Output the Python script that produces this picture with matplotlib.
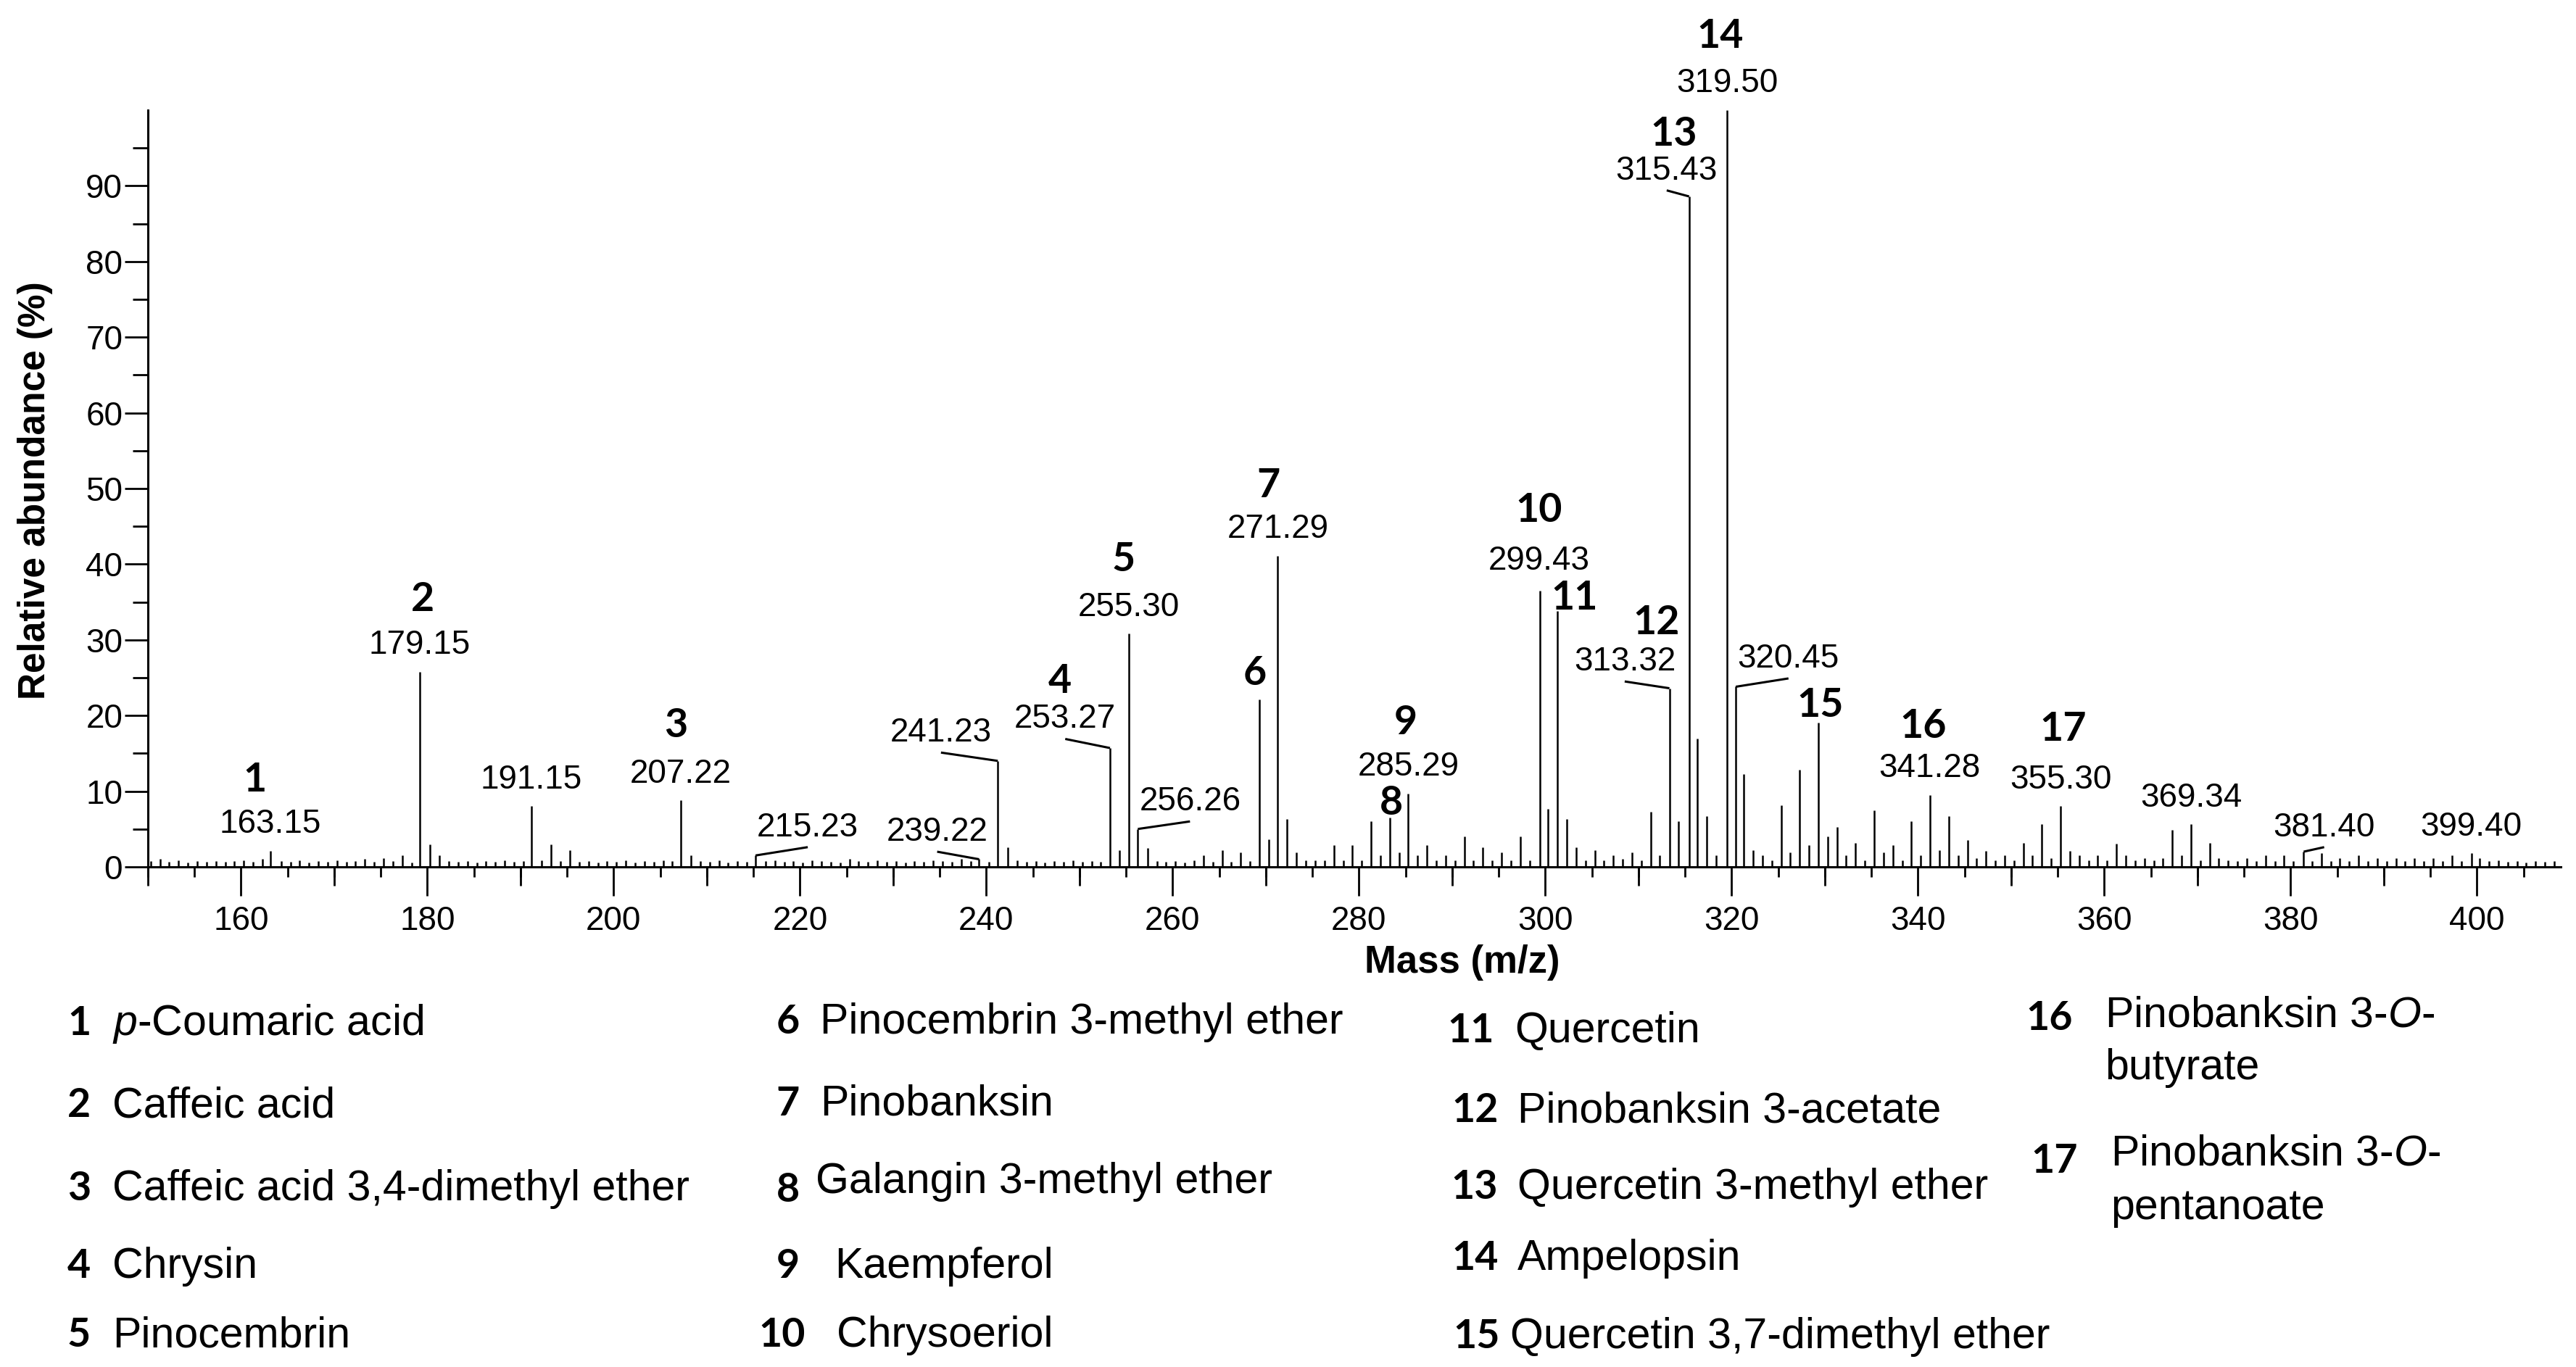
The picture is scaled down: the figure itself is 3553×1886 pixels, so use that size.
import numpy as np
import matplotlib
matplotlib.use("Agg")
import matplotlib.pyplot as plt
from matplotlib.ticker import MultipleLocator, FixedLocator

plt.rcParams['font.family'] = ['Liberation Sans', 'DejaVu Sans']
plt.rcParams['mathtext.fontset'] = 'custom'
plt.rcParams['mathtext.rm'] = 'Liberation Sans'
plt.rcParams['mathtext.it'] = 'Liberation Sans:italic'
plt.rcParams['mathtext.bf'] = 'Liberation Sans:bold'

# relative abundance (%) at every nominal mass from 150 to 409
mass_start = 150
abundance = [
    0.8, 1.0, 0.7, 0.9, 0.6, 0.8, 0.7, 0.8, 0.7, 0.8,     # 150
    0.9, 0.7, 1.0, 2.1, 0.8, 0.7, 0.9, 0.6, 0.8, 0.7,     # 160
    0.9, 0.7, 0.8, 1.0, 0.7, 1.1, 0.8, 1.5, 0.6, 25.8,    # 170
    3.0, 1.5, 0.8, 0.7, 0.8, 0.6, 0.8, 0.7, 0.9, 0.7,     # 180
    0.8, 8.0, 0.9, 3.0, 0.8, 2.2, 0.7, 0.8, 0.6, 0.8,     # 190
    0.7, 0.9, 0.6, 0.8, 0.7, 0.9, 0.8, 8.8, 1.5, 0.8,     # 200
    0.7, 0.9, 0.6, 0.8, 0.7, 1.5, 0.8, 0.9, 0.7, 0.8,     # 210
    0.6, 0.9, 0.8, 0.7, 0.6, 1.0, 0.8, 0.7, 0.9, 0.7,     # 220
    0.8, 0.6, 0.8, 0.7, 0.9, 0.8, 0.7, 1.0, 0.8, 1.0,     # 230
    0.7, 14.0, 2.6, 0.9, 0.7, 0.8, 0.6, 0.8, 0.7, 0.9,    # 240
    0.7, 0.8, 0.7, 15.7, 2.2, 30.8, 5.0, 2.5, 0.8, 0.7,   # 250
    0.8, 0.6, 0.9, 1.5, 0.7, 2.2, 0.7, 1.9, 0.8, 22.1,    # 260
    3.6, 41.1, 6.3, 1.9, 0.9, 0.9, 0.9, 2.9, 0.9, 2.9,    # 270
    0.9, 6.0, 1.5, 6.5, 1.9, 9.7, 1.5, 2.9, 0.9, 1.5,     # 280
    0.9, 4.0, 0.9, 2.6, 0.9, 1.9, 0.9, 4.0, 0.9, 36.5,    # 290
    7.7, 33.8, 6.3, 2.6, 0.9, 2.2, 0.9, 1.5, 1.0, 1.9,    # 300
    0.9, 7.3, 1.5, 23.6, 6.0, 88.6, 16.9, 6.7, 1.5, 100.0,  # 310
    23.8, 12.3, 2.2, 1.5, 0.9, 8.1, 1.9, 12.8, 2.9, 19.1,   # 320
    4.0, 5.3, 1.5, 3.2, 0.9, 7.5, 1.9, 2.9, 0.9, 6.0,     # 330
    1.5, 9.5, 2.2, 6.7, 1.5, 3.5, 1.1, 2.1, 0.9, 1.5,     # 340
    0.9, 3.2, 1.5, 5.6, 1.1, 8.0, 2.1, 1.5, 0.9, 1.5,     # 350
    0.9, 3.1, 1.5, 0.9, 1.1, 0.9, 1.1, 4.9, 1.5, 5.6,     # 360
    0.9, 3.2, 1.1, 0.9, 0.8, 1.1, 0.8, 1.5, 0.8, 1.5,     # 370
    0.8, 2.0, 0.8, 1.8, 0.8, 1.1, 0.8, 1.5, 0.8, 1.1,     # 380
    0.8, 1.1, 0.8, 1.1, 0.8, 1.1, 0.8, 1.5, 0.8, 1.8,     # 390
    1.1, 0.8, 0.9, 0.7, 0.8, 0.6, 0.8, 0.7, 0.8, 0.6,     # 400
]

# peaks labelled with their measured m/z
labelled_mz = [163.15, 179.15, 191.15, 207.22, 215.23, 239.22, 241.23, 253.27,
               255.30, 256.26, 271.29, 285.29, 299.43, 313.32, 315.43, 319.50,
               320.45, 341.28, 355.30, 369.34, 381.40, 399.40]

# identified compounds: number, nominal mass of its peak, name
compound_ids = list(range(1, 18))
compound_mass = [163, 179, 207, 253, 255, 269, 271, 283, 285, 299, 301, 313,
                 315, 319, 329, 341, 355]
compound_names = [
    "$p$-Coumaric acid", "Caffeic acid", "Caffeic acid 3,4-dimethyl ether",
    "Chrysin", "Pinocembrin", "Pinocembrin 3-methyl ether", "Pinobanksin",
    "Galangin 3-methyl ether", "Kaempferol", "Chrysoeriol", "Quercetin",
    "Pinobanksin 3-acetate", "Quercetin 3-methyl ether", "Ampelopsin",
    "Quercetin 3,7-dimethyl ether",
    ["Pinobanksin 3-$O$-", "butyrate"],
    ["Pinobanksin 3-$O$-", "pentanoate"],
]

# ---- layout / style ----
BOLDNUM = ['Lato', 'Liberation Sans', 'DejaVu Sans']
LABEL_SIZE = 33
LEGEND_SIZE = 42.5
mz_offset_default = (0.0, 3.5)
mz_offset = {215: (5.6, 3.7), 239: (-4.5, 3.6), 241: (-6.1, 3.7),
             253: (-4.8, 3.8), 256: (5.6, 3.6), 313: (-4.8, 3.5),
             315: (-2.4, 3.4), 320: (5.65, 3.7), 381: (2.2, 3.2)}
mz_lift = {299: (-0.1, 3.9)}
num_offset = {1: (-1.65, 9.4), 2: (0.35, 9.5), 3: (-0.57, 9.9), 4: (-5.37, 8.8),
              5: (-0.6, 9.8), 6: (-0.5, 3.5), 7: (-1.0, 9.3), 8: (0.2, 1.9),
              9: (-0.3, 9.4), 10: (-0.1, 10.6), 11: (1.8, 1.7), 12: (-1.4, 8.7),
              13: (-1.6, 8.2), 14: (-0.7, 9.8), 15: (0.2, 2.3), 16: (-0.7, 9.1),
              17: (0.3, 10.2)}
# legend: (number centre x, text left x, row centre y) in figure fractions
legend_pos = [
    (0.0307, 0.0436, 0.2534), (0.0307, 0.0436, 0.1935), (0.0307, 0.0436, 0.1326),
    (0.0307, 0.0436, 0.0761), (0.0307, 0.0436, 0.0255),
    (0.3059, 0.3183, 0.2545), (0.3059, 0.3183, 0.1949), (0.3059, 0.3166, 0.1380),
    (0.3059, 0.3240, 0.0761), (0.3037, 0.3248, 0.0255),
    (0.5711, 0.5880, 0.2484), (0.5725, 0.5891, 0.1898), (0.5725, 0.5891, 0.1338),
    (0.5725, 0.5891, 0.0817), (0.5733, 0.5863, 0.0244),
    (0.7957, 0.8171, 0.2572), (0.7974, 0.8193, 0.1527),
]
legend_second_line = {16: 0.2211, 17: 0.1189}
legend_first_line = {16: 0.2595, 17: 0.1587}
legend_num_y = {8: 0.1315, 16: 0.2572, 17: 0.1527}
CAP = 0.0108   # half cap height of legend text, figure fraction

nominal = np.arange(mass_start, mass_start + len(abundance))
heights = np.array(abundance)
xpos = nominal + 0.3
for m in labelled_mz:
    xpos[int(m) - mass_start] = m

fig = plt.figure(figsize=(35.53, 18.86), dpi=100)
ax = fig.add_axes([0.0574, 0.3659, 0.9367, 0.5535])
ax.vlines(xpos, 0, heights, color='black', lw=1.8)
ax.set_xlim(150, 409)
ax.set_ylim(0, 100)

for s in ['top', 'right']:
    ax.spines[s].set_visible(False)
for s in ['left', 'bottom']:
    ax.spines[s].set_linewidth(2.2)

ax.xaxis.set_major_locator(MultipleLocator(20))
ax.xaxis.set_minor_locator(MultipleLocator(5))
ax.yaxis.set_major_locator(FixedLocator(np.arange(0, 91, 10)))
ax.yaxis.set_minor_locator(FixedLocator(np.arange(5, 96, 10)))
ax.tick_params(axis='x', which='major', length=29, width=2, pad=9,
               labelsize=LABEL_SIZE)
ax.tick_params(axis='x', which='minor', length=10, width=2)
ax.tick_params(axis='y', which='major', length=23, width=2, pad=2,
               labelsize=LABEL_SIZE)
ax.tick_params(axis='y', which='minor', length=15, width=2)

# medium ticks at the odd tens
sec = ax.secondary_xaxis('bottom')
sec.xaxis.set_major_locator(FixedLocator(np.arange(150, 410, 20)))
sec.tick_params(axis='x', length=19, width=2, labelbottom=False)
sec.spines['bottom'].set_visible(False)

# m/z labels with leader lines
for m in labelled_mz:
    i = int(m) - mass_start
    px, py = xpos[i], heights[i]
    dx, dy = mz_offset.get(int(m), mz_lift.get(int(m), mz_offset_default))
    lx, ly = px + dx, py + dy
    ax.text(lx, ly, f"{m:.2f}", ha='center', va='center',
            fontsize=LABEL_SIZE, clip_on=False)
    if int(m) in mz_offset:
        ax.plot([lx, px], [ly - 2.6, py], color='black', lw=2.2,
                solid_capstyle='butt', clip_on=False)

# compound numbers above peaks
for cid, cm in zip(compound_ids, compound_mass):
    i = cm - mass_start
    dx, dy = num_offset[cid]
    ax.text(xpos[i] + dx, heights[i] + dy, str(cid), ha='center', va='center',
            fontsize=40, family=BOLDNUM, fontweight='bold', clip_on=False)

fig.text(0.5676, 0.296, "Mass (m/z)", ha='center', va='center',
         fontsize=38, fontweight='bold')
fig.text(0.0136, 0.641, "Relative abundance (%)", ha='center', va='center',
         rotation=90, fontsize=37, fontweight='bold')

# compound legend under the axis
for cid, name, (xn, xt, yc) in zip(compound_ids, compound_names, legend_pos):
    yn = legend_num_y.get(cid, yc)
    fig.text(xn, yn - CAP, str(cid), ha='center', va='baseline', fontsize=40,
             family=BOLDNUM, fontweight='bold')
    if isinstance(name, list):
        fig.text(xt, legend_first_line[cid] - CAP, name[0], ha='left',
                 va='baseline', fontsize=LEGEND_SIZE)
        fig.text(xt, legend_second_line[cid] - CAP, name[1], ha='left',
                 va='baseline', fontsize=LEGEND_SIZE)
    else:
        fig.text(xt, yc - CAP, name, ha='left', va='baseline',
                 fontsize=LEGEND_SIZE)

fig.savefig("out.png", dpi=100, facecolor='white')
